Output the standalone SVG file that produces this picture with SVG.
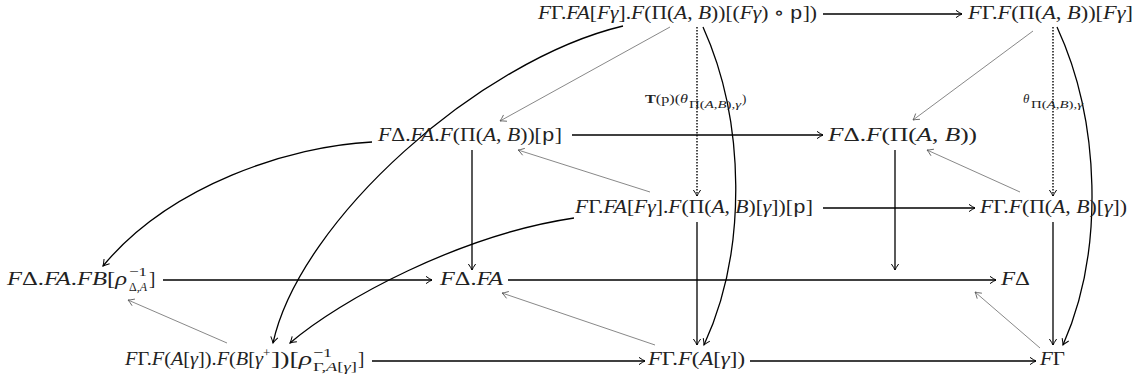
<svg xmlns="http://www.w3.org/2000/svg" width="1145" height="383" viewBox="0 0 1145 383">
<defs>
<marker id="ah" markerUnits="userSpaceOnUse" markerWidth="12" markerHeight="12" viewBox="-8 -6 10 12" refX="0" refY="0" orient="auto">
<path d="M-6,-3.6 Q-2,-0.8 0,0 Q-2,0.8 -6,3.6" fill="none" stroke="#000" stroke-width="1"/>
</marker>
<marker id="ag" markerUnits="userSpaceOnUse" markerWidth="12" markerHeight="12" viewBox="-8 -6 10 12" refX="0" refY="0" orient="auto">
<path d="M-6,-3.6 Q-2,-0.8 0,0 Q-2,0.8 -6,3.6" fill="none" stroke="#555" stroke-width="0.8"/>
</marker>
</defs>
<style>
.t{font-family:"Liberation Serif","DejaVu Serif",serif;font-size:19px;fill:#222}
.s{font-family:"Liberation Serif","DejaVu Serif",serif;font-size:13px;fill:#222}
.ss{font-family:"Liberation Serif","DejaVu Serif",serif;font-size:10.5px;fill:#222}
.i{font-style:italic}
.tt{font-family:"Liberation Mono","DejaVu Sans Mono",monospace}
.b{font-weight:bold}
.k{fill:none;stroke:#000;stroke-width:1.3;marker-end:url(#ah)}
.g{fill:none;stroke:#555;stroke-width:0.7;marker-end:url(#ag)}
.d{fill:none;stroke:#000;stroke-width:1.4;stroke-dasharray:1.5 1.5;marker-end:url(#ah)}
</style>
<g id="connectors">
<path class="k" d="M823,14 L962,14"/>
<path class="k" d="M572,135 L823,135"/>
<path class="k" d="M823,208 L975,208"/>
<path class="k" d="M163,280 L432,280"/>
<path class="k" d="M508,280 L996,280"/>
<path class="k" d="M372,361 L645,361"/>
<path class="k" d="M750,361 L1036,361"/>
<path class="k" d="M472,150 L472,270"/>
<path class="k" d="M895,150 L895,270"/>
<path class="k" d="M697,222 L697,345"/>
<path class="k" d="M1053,222 L1053,345"/>
<path class="d" d="M697,27 L697,196"/>
<path class="d" d="M1053,27 L1053,196"/>
<path class="g" d="M670,27 L500,121"/>
<path class="g" d="M1033,31 L913,120"/>
<path class="g" d="M650,192 L518,150"/>
<path class="g" d="M1020,192 L927,150"/>
<path class="g" d="M227,343 L128,300"/>
<path class="g" d="M655,345 L502,293"/>
<path class="g" d="M1040,348 L975,292"/>
<path class="k" d="M372,142 C290,146 170,185 103,266"/>
<path class="k" d="M623,26 C480,60 300,220 273,343"/>
<path class="k" d="M574,218 C460,235 340,300 290,343"/>
<path class="k" d="M703,27 C745,120 748,250 704,345"/>
<path class="k" d="M1057,27 C1100,120 1105,250 1063,345"/>
<text class="s" x="645" y="103" textLength="43" lengthAdjust="spacingAndGlyphs"><tspan class="b">T</tspan>(p)(<tspan class="i">θ</tspan></text>
<text class="ss" x="689" y="108" textLength="52" lengthAdjust="spacingAndGlyphs">Π(<tspan class="i">A</tspan>,<tspan class="i">B</tspan>),<tspan class="i">γ</tspan></text>
<text class="s" x="742" y="103">)</text>
<text class="s i" x="1023" y="103">θ</text>
<text class="ss" x="1031" y="108" textLength="52" lengthAdjust="spacingAndGlyphs">Π(<tspan class="i">A</tspan>,<tspan class="i">B</tspan>),<tspan class="i">γ</tspan></text>
</g>
<g id="n1"><text class="t" x="538" y="19" textLength="279" lengthAdjust="spacingAndGlyphs"><tspan class="i">F</tspan>Γ.<tspan class="i">FA</tspan>[<tspan class="i">Fγ</tspan>].<tspan class="i">F</tspan>(Π(<tspan class="i">A</tspan>, <tspan class="i">B</tspan>))[(<tspan class="i">Fγ</tspan>) ∘ <tspan class="tt">p</tspan>])</text></g>
<g id="n2"><text class="t" x="968" y="19" textLength="165" lengthAdjust="spacingAndGlyphs"><tspan class="i">F</tspan>Γ.<tspan class="i">F</tspan>(Π(<tspan class="i">A</tspan>, <tspan class="i">B</tspan>))[<tspan class="i">Fγ</tspan>]</text></g>
<g id="n3"><text class="t" x="378" y="141" textLength="184" lengthAdjust="spacingAndGlyphs"><tspan class="i">F</tspan>Δ.<tspan class="i">FA</tspan>.<tspan class="i">F</tspan>(Π(<tspan class="i">A</tspan>, <tspan class="i">B</tspan>))[<tspan class="tt">p</tspan>]</text></g>
<g id="n4"><text class="t" x="828" y="141" textLength="149" lengthAdjust="spacingAndGlyphs"><tspan class="i">F</tspan>Δ.<tspan class="i">F</tspan>(Π(<tspan class="i">A</tspan>, <tspan class="i">B</tspan>))</text></g>
<g id="n5"><text class="t" x="575" y="213" textLength="238" lengthAdjust="spacingAndGlyphs"><tspan class="i">F</tspan>Γ.<tspan class="i">FA</tspan>[<tspan class="i">Fγ</tspan>].<tspan class="i">F</tspan>(Π(<tspan class="i">A</tspan>, <tspan class="i">B</tspan>)[<tspan class="i">γ</tspan>])[<tspan class="tt">p</tspan>]</text></g>
<g id="n6"><text class="t" x="980" y="213" textLength="147" lengthAdjust="spacingAndGlyphs"><tspan class="i">F</tspan>Γ.<tspan class="i">F</tspan>(Π(<tspan class="i">A</tspan>, <tspan class="i">B</tspan>)[<tspan class="i">γ</tspan>])</text></g>
<g id="n7"><text class="t" x="7" y="285" textLength="120" lengthAdjust="spacingAndGlyphs"><tspan class="i">F</tspan>Δ.<tspan class="i">FA</tspan>.<tspan class="i">FB</tspan>[<tspan class="i">ρ</tspan></text>
<text class="s" x="129" y="276" textLength="18" lengthAdjust="spacingAndGlyphs">−1</text><text class="s" x="129" y="291" textLength="18" lengthAdjust="spacingAndGlyphs">Δ,<tspan class="i">A</tspan></text><text class="t" x="149" y="285">]</text></g>
<g id="n8"><text class="t" x="440" y="285" textLength="63" lengthAdjust="spacingAndGlyphs"><tspan class="i">F</tspan>Δ.<tspan class="i">FA</tspan></text></g>
<g id="n9"><text class="t" x="1001" y="285" textLength="29" lengthAdjust="spacingAndGlyphs"><tspan class="i">F</tspan>Δ</text></g>
<g id="n10"><text class="t" x="125" y="365" textLength="138" lengthAdjust="spacingAndGlyphs"><tspan class="i">F</tspan>Γ.<tspan class="i">F</tspan>(<tspan class="i">A</tspan>[<tspan class="i">γ</tspan>]).<tspan class="i">F</tspan>(<tspan class="i">B</tspan>[<tspan class="i">γ</tspan></text>
<text class="s" x="263" y="357">+</text>
<text class="t" x="271" y="365" textLength="41" lengthAdjust="spacingAndGlyphs">])[<tspan class="i">ρ</tspan></text>
<text class="s" x="313" y="357" textLength="19" lengthAdjust="spacingAndGlyphs">−1</text><text class="s" x="313" y="371" textLength="44" lengthAdjust="spacingAndGlyphs">Γ,<tspan class="i">A</tspan>[<tspan class="i">γ</tspan>]</text>
<text class="t" x="358" y="365">]</text></g>
<g id="n11"><text class="t" x="648" y="365" textLength="97" lengthAdjust="spacingAndGlyphs"><tspan class="i">F</tspan>Γ.<tspan class="i">F</tspan>(<tspan class="i">A</tspan>[<tspan class="i">γ</tspan>])</text></g>
<g id="n12"><text class="t" x="1040" y="365" textLength="25" lengthAdjust="spacingAndGlyphs"><tspan class="i">F</tspan>Γ</text></g>
</svg>
